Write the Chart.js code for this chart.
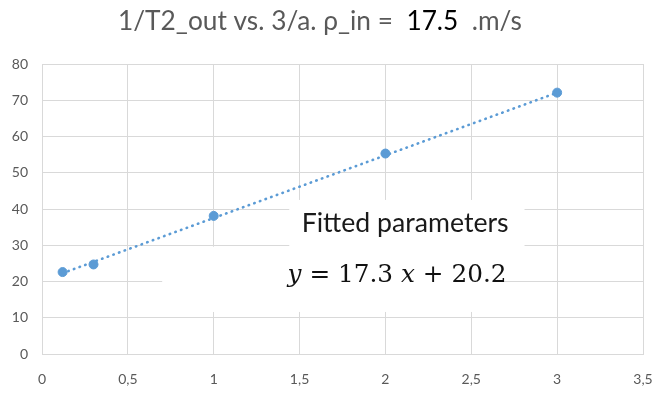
<!DOCTYPE html>
<html>
<head>
<meta charset="utf-8">
<script src="https://cdn.jsdelivr.net/npm/chart.js@4"></script>
<style>
  html, body { margin: 0; padding: 0; background: #fff; }
  #wrap { width: 664px; height: 393px; }
</style>
</head>
<body>
<div id="wrap"><canvas id="chart" width="664" height="393"></canvas></div>
<script>
/* data */
const xValues = [0.12, 0.3, 1, 2, 3];
const yValues = [22.6, 24.7, 38.1, 55.3, 72.1];
// dotted trend line (fit y = 17.3 x + 20.2) between first and last x
const trendX = [0.12, 3];
const trendY = [22.3, 72.1];
const xTicks = [0, 0.5, 1, 1.5, 2, 2.5, 3, 3.5];
const yTicks = [0, 10, 20, 30, 40, 50, 60, 70, 80];

const BLUE = "#5b9bd5";
const GRID = "#d9d9d9";
const LABEL = "#595959";

// draw a run of [text, font, colour] pieces, scaled so the whole run is `width` wide
function drawRun(ctx, parts, baseSize, width, cx, baseline, align) {
  let total = 0;
  parts.forEach(p => {
    ctx.font = p[1].replace("SIZE", baseSize + "px");
    total += ctx.measureText(p[0]).width;
  });
  const size = baseSize * width / total;
  let x = align === "left" ? cx : cx - width / 2;
  parts.forEach(p => {
    ctx.font = p[1].replace("SIZE", size.toFixed(2) + "px");
    ctx.fillStyle = p[2];
    ctx.fillText(p[0], x, baseline);
    x += ctx.measureText(p[0]).width;
  });
}

/* title + fitted-parameter boxes */
const decorations = {
  id: "decorations",
  beforeDatasetsDraw(chart) {
    const { ctx, scales: { x, y } } = chart;
    ctx.save();
    ctx.fillStyle = "#fff";
    // box "Fitted parameters"
    ctx.fillRect(x.getPixelForValue(1.44), y.getPixelForValue(42.5),
      x.getPixelForValue(2.81) - x.getPixelForValue(1.44),
      y.getPixelForValue(29.5) - y.getPixelForValue(42.5));
    // box for the equation
    ctx.fillRect(x.getPixelForValue(0.7), y.getPixelForValue(29.6),
      x.getPixelForValue(2.69) - x.getPixelForValue(0.7),
      y.getPixelForValue(11.6) - y.getPixelForValue(29.6));
    ctx.restore();
  },
  afterDraw(chart) {
    const { ctx, scales: { x, y } } = chart;
    ctx.save();
    ctx.textBaseline = "alphabetic";
    ctx.textAlign = "left";

    // title, two colours
    drawRun(ctx, [
      ["1/T2_out vs. 3/a. \u03c1_in =  ", "SIZE Lato", LABEL],
      ["17.5", "SIZE Lato", "#000"],
      ["  .m/s", "SIZE Lato", LABEL]
    ], 20, 404, 320, 30);

    // annotation text
    drawRun(ctx, [["Fitted parameters", "SIZE Lato", "#1a1a1a"]],
      20, 207, x.getPixelForValue(2.115), y.getPixelForValue(33.6));

    drawRun(ctx, [
      ["y", "italic SIZE 'DejaVu Serif'", "#111"],
      [" = 17.3 ", "SIZE 'DejaVu Serif'", "#111"],
      ["x", "italic SIZE 'DejaVu Serif'", "#111"],
      [" + 20.2", "SIZE 'DejaVu Serif'", "#111"]
    ], 22, 219, x.getPixelForValue(1.43), y.getPixelForValue(19.9), "left");
    ctx.restore();
  }
};

new Chart(document.getElementById("chart"), {
  type: "scatter",
  data: {
    datasets: [
      {
        label: "data",
        data: xValues.map((v, i) => ({ x: v, y: yValues[i] })),
        backgroundColor: BLUE,
        borderColor: BLUE,
        pointRadius: 4.5,
        pointHoverRadius: 4.5,
        showLine: false,
        order: 1
      },
      {
        label: "trend",
        data: trendX.map((v, i) => ({ x: v, y: trendY[i] })),
        borderColor: BLUE,
        borderWidth: 2.6,
        borderDash: [0.5, 5.5],
        borderCapStyle: "round",
        pointRadius: 0,
        showLine: true,
        order: 2
      }
    ]
  },
  options: {
    responsive: false,
    animation: false,
    layout: { padding: { top: 64, right: 21, left: 4, bottom: 0 } },
    plugins: {
      legend: { display: false },
      tooltip: { enabled: false },
      title: { display: false }
    },
    scales: {
      x: {
        type: "linear",
        min: 0,
        max: 3.5,
        afterBuildTicks: axis => { axis.ticks = xTicks.map(v => ({ value: v })); },
        afterFit: axis => {
          axis.height = 39;
          axis.paddingLeft = 0;
          axis.paddingRight = 0;
        },
        ticks: {
          color: LABEL,
          font: { family: "Lato", size: 14 },
          padding: 17,
          maxRotation: 0,
          callback: v => String(v).replace(".", ",")
        },
        grid: { color: GRID, lineWidth: 1, drawTicks: false },
        border: { color: GRID }
      },
      y: {
        min: 0,
        max: 80,
        afterBuildTicks: axis => { axis.ticks = yTicks.map(v => ({ value: v })); },
        afterFit: axis => { axis.width = 38; },
        ticks: {
          color: LABEL,
          font: { family: "Lato", size: 14 },
          padding: 14
        },
        grid: { color: GRID, lineWidth: 1, drawTicks: false },
        border: { color: GRID }
      }
    }
  },
  plugins: [decorations]
});
</script>
</body>
</html>
